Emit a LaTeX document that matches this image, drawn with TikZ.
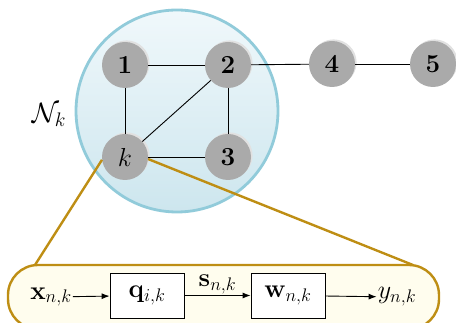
\RequirePackage{fix-cm}
\documentclass[tikz,border=0pt]{standalone}
\usetikzlibrary{arrows.meta}
\definecolor{gold}{RGB}{190,142,20}
\definecolor{boxfill}{RGB}{255,253,238}
\definecolor{ringc}{RGB}{145,203,218}
\definecolor{blueA}{RGB}{240,248,251}
\definecolor{blueB}{RGB}{205,230,238}
\definecolor{ballc}{RGB}{170,170,170}
\definecolor{ballhi}{RGB}{225,225,225}
\newcommand\bigf{\fontsize{26}{30}\selectfont}
\tikzset{
  ball/.style={circle, minimum size=46pt, inner sep=0pt, fill=ballc, font=\bigf\bfseries},
  edge/.style={draw=black, line width=0.9pt},
  goldline/.style={draw=gold, line width=2.4pt},
  blk/.style={draw=black, fill=white, line width=0.8pt, minimum width=74pt, minimum height=45pt, inner sep=0pt, font=\bigf},
  lab/.style={inner sep=1pt, font=\bigf},
  arr/.style={-{Latex[length=8pt,width=6pt]}, line width=0.9pt}
}
\begin{document}
\begin{tikzpicture}[x=1pt,y=-1pt]
\useasboundingbox (0,0) rectangle (456,323);
\clip (0,0) rectangle (456,323);
% bottom rounded box
\draw[goldline, fill=boxfill, rounded corners=30pt] (8,265) rectangle (439,329);
% neighborhood circle
\shade[top color=blueA, bottom color=blueB] (177,111) circle (101);
\draw[ringc, line width=2.8pt] (177,111) circle (101);
\node[lab, font=\fontsize{28}{32}\selectfont] (nk) at (49,115) {$\mathcal{N}_k$};
% balls highlights
\foreach \p in {(125,65),(228,65),(125,157),(228,157),(332,64),(433,64)}
  \fill[ballhi] \p ++(1.6,-1.6) circle (23);
\node[ball] (n1) at (125,65) {1};
\node[ball] (n2) at (228,65) {2};
\node[ball, font=\bigf] (nk0) at (125,157) {$k$};
\node[ball] (n3) at (228,157) {3};
\node[ball] (n4) at (332,64) {4};
\node[ball] (n5) at (433,64) {5};
\draw[edge] (n1) -- (n2);
\draw[edge] (n1) -- (nk0);
\draw[edge] (n2) -- (n3);
\draw[edge] (nk0) -- (n3);
\draw[edge] (nk0) -- (n2);
\draw[edge] (n2) -- (n4);
\draw[edge] (n4) -- (n5);
% zoom lines
\coordinate (zl) at (35,265);
\coordinate (zr) at (413,265);
\draw[goldline] (nk0.187) -- (zl);
\draw[goldline] (nk0.-5) -- (zr);
% block diagram
\node[lab] (x) at (51,297) {$\mathbf{x}_{n,k}$};
\node[blk] (q) at (147,295.5) {$\mathbf{q}_{i,k}$};
\node[blk] (w) at (288,295.5) {$\mathbf{w}_{n,k}$};
\node[lab] (y) at (397,297) {$y_{n,k}$};
\draw[arr] (x) -- (q);
\draw[arr] (q) -- node[lab, above] {$\mathbf{s}_{n,k}$} (w);
\draw[arr] (w) -- (y);
\end{tikzpicture}
\end{document}
